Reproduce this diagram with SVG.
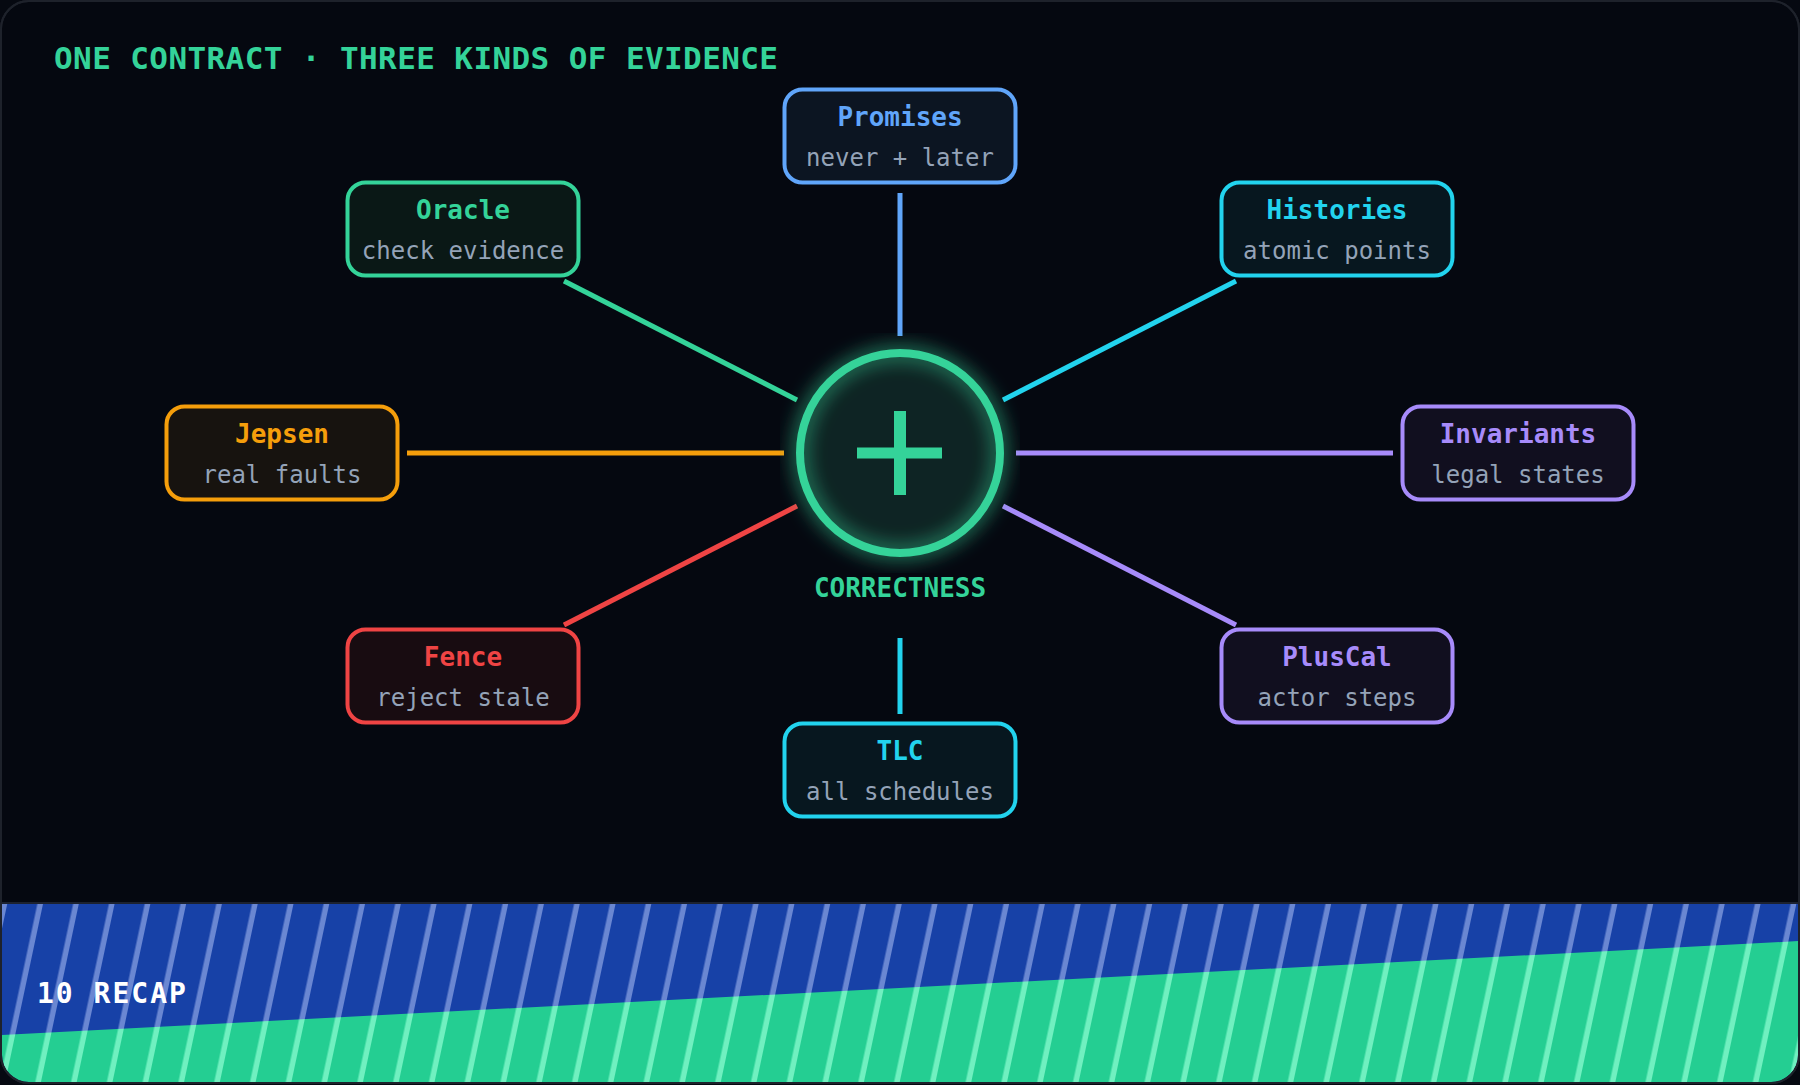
<svg xmlns="http://www.w3.org/2000/svg" width="1800" height="1085" viewBox="0 0 1800 1085">
  <defs>
    <style>
      .mono { font-family: "DejaVu Sans Mono", "Liberation Mono", monospace; }
      .ttl { font-family: "DejaVu Sans Mono", "Liberation Mono", monospace; font-size: 26px; font-weight: bold; text-anchor: middle; }
      .sub { font-family: "DejaVu Sans Mono", "Liberation Mono", monospace; font-size: 24px; fill: #94a3b8; text-anchor: middle; }
      .box { stroke-width: 4; fill-opacity: 1; }
      .conn { stroke-width: 5; fill: none; stroke-linecap: butt; }
    </style>
    <filter id="glow">
      <feGaussianBlur in="SourceGraphic" stdDeviation="10" result="b"/>
      <feMerge>
        <feMergeNode in="b"/>
        <feMergeNode in="SourceGraphic"/>
      </feMerge>
    </filter>
    <clipPath id="frameClip">
      <rect x="2" y="2" width="1796" height="1080" rx="27"/>
    </clipPath>
    <pattern id="stripesBlue" patternUnits="userSpaceOnUse" width="35" height="400" patternTransform="rotate(12)">
      <rect x="0" y="0" width="35" height="400" fill="#1741a7"/>
      <rect x="14.5" y="0" width="5.5" height="400" fill="#6a87d2"/>
    </pattern>
    <pattern id="stripesGreen" patternUnits="userSpaceOnUse" width="35" height="400" patternTransform="rotate(12)">
      <rect x="0" y="0" width="35" height="400" fill="#24ce92"/>
      <rect x="14.5" y="0" width="5.5" height="400" fill="#70f0c0"/>
    </pattern>
  </defs>

  <rect x="0" y="0" width="1800" height="1085" fill="#060911"/>
  <rect x="1" y="1" width="1798" height="1082" rx="28" fill="#050810" stroke="#1e222b" stroke-width="2"/>

  <text class="mono" x="54" y="69" font-size="31" font-weight="bold" letter-spacing="0.4" fill="#34d399">ONE CONTRACT · THREE KINDS OF EVIDENCE</text>

  <g id="connectors">
    <line class="conn" x1="900" y1="193" x2="900" y2="336" stroke="#60a5fa"/>
    <line class="conn" x1="900" y1="638" x2="900" y2="714" stroke="#22d3ee"/>
    <line class="conn" x1="407" y1="453" x2="784" y2="453" stroke="#f59e0b"/>
    <line class="conn" x1="1016" y1="453" x2="1393" y2="453" stroke="#a78bfa"/>
    <line class="conn" x1="564" y1="281" x2="797" y2="400" stroke="#34d399"/>
    <line class="conn" x1="1236" y1="281" x2="1003" y2="400" stroke="#22d3ee"/>
    <line class="conn" x1="564" y1="625" x2="797" y2="506" stroke="#ef4444"/>
    <line class="conn" x1="1236" y1="625" x2="1003" y2="506" stroke="#a78bfa"/>
  </g>

  <g id="correctness">
    <g filter="url(#glow)">
      <circle cx="900" cy="453" r="100" fill="#34d399" fill-opacity="0.07" stroke="#34d399" stroke-width="8"/>
    </g>
    <rect x="894" y="411" width="12" height="84" fill="#34d399"/>
    <rect x="857" y="447.5" width="85" height="11" fill="#34d399"/>
    <text class="ttl" x="900" y="597" fill="#34d399">CORRECTNESS</text>
  </g>

  <g id="promises">
    <rect class="box" x="784.5" y="89.5" width="231" height="93" rx="18" fill="#0c1522" stroke="#60a5fa"/>
    <text class="ttl" x="900" y="125.5" fill="#60a5fa">Promises</text>
    <text class="sub" x="900" y="165.5">never + later</text>
  </g>

  <g id="oracle">
    <rect class="box" x="347.5" y="182.5" width="231" height="93" rx="18" fill="#0a1816" stroke="#34d399"/>
    <text class="ttl" x="463" y="218.5" fill="#34d399">Oracle</text>
    <text class="sub" x="463" y="258.5">check evidence</text>
  </g>

  <g id="histories">
    <rect class="box" x="1221.5" y="182.5" width="231" height="93" rx="18" fill="#07171f" stroke="#22d3ee"/>
    <text class="ttl" x="1337" y="218.5" fill="#22d3ee">Histories</text>
    <text class="sub" x="1337" y="258.5">atomic points</text>
  </g>

  <g id="jepsen">
    <rect class="box" x="166.5" y="406.5" width="231" height="93" rx="18" fill="#17130f" stroke="#f59e0b"/>
    <text class="ttl" x="282" y="442.5" fill="#f59e0b">Jepsen</text>
    <text class="sub" x="282" y="482.5">real faults</text>
  </g>

  <g id="invariants">
    <rect class="box" x="1402.5" y="406.5" width="231" height="93" rx="18" fill="#110f1f" stroke="#a78bfa"/>
    <text class="ttl" x="1518" y="442.5" fill="#a78bfa">Invariants</text>
    <text class="sub" x="1518" y="482.5">legal states</text>
  </g>

  <g id="fence">
    <rect class="box" x="347.5" y="629.5" width="231" height="93" rx="18" fill="#180c11" stroke="#ef4444"/>
    <text class="ttl" x="463" y="665.5" fill="#ef4444">Fence</text>
    <text class="sub" x="463" y="705.5">reject stale</text>
  </g>

  <g id="pluscal">
    <rect class="box" x="1221.5" y="629.5" width="231" height="93" rx="18" fill="#110f1f" stroke="#a78bfa"/>
    <text class="ttl" x="1337" y="665.5" fill="#a78bfa">PlusCal</text>
    <text class="sub" x="1337" y="705.5">actor steps</text>
  </g>

  <g id="tlc">
    <rect class="box" x="784.5" y="723.5" width="231" height="93" rx="18" fill="#07171f" stroke="#22d3ee"/>
    <text class="ttl" x="900" y="759.5" fill="#22d3ee">TLC</text>
    <text class="sub" x="900" y="799.5">all schedules</text>
  </g>

  <g id="banner" clip-path="url(#frameClip)">
    <rect x="0" y="904" width="1800" height="181" fill="url(#stripesBlue)"/>
    <polygon points="0,1035 1800,941 1800,1085 0,1085" fill="url(#stripesGreen)"/>
    <line x1="0" y1="903" x2="1800" y2="903" stroke="#1c2230" stroke-width="2"/>
    <text class="mono" x="37" y="1002.5" font-size="28" font-weight="bold" letter-spacing="2" fill="#ffffff">10 RECAP</text>
  </g>
  <rect x="1" y="1" width="1798" height="1082" rx="28" fill="none" stroke="#1e222b" stroke-width="2"/>
</svg>
